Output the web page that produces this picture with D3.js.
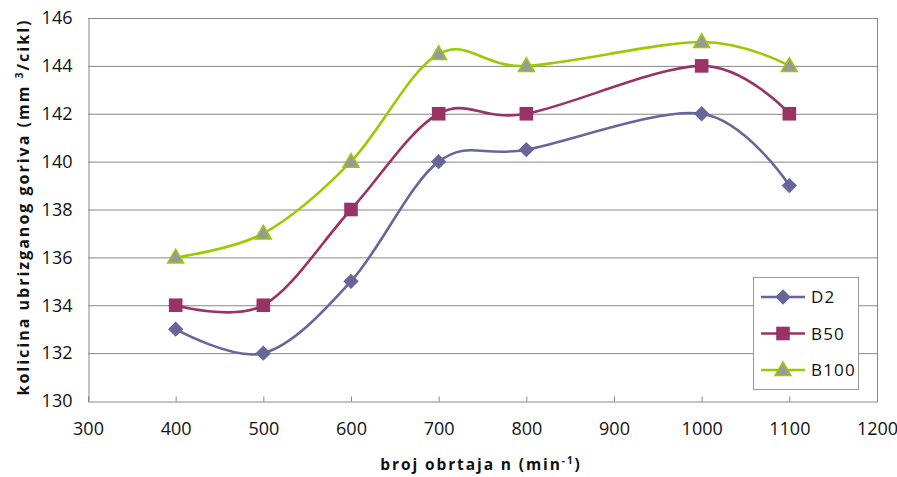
<!DOCTYPE html>
<html><head><meta charset="utf-8">
<script src="https://cdn.jsdelivr.net/npm/d3@7"></script>
<style>body{margin:0;background:#fff}svg{display:block}</style>
</head><body>
<svg id="chart" width="897" height="477"></svg>
<script>
const rpm = [400, 500, 600, 700, 800, 1000, 1100];
const d2 = [133, 132, 135, 140, 140.5, 142, 139];
const b50 = [134, 134, 138, 142, 142, 144, 142];
const b100 = [136, 137, 140, 144.5, 144, 145, 144];
const seriesNames = ["D2", "B50", "B100"];
const xTicks = [300, 400, 500, 600, 700, 800, 900, 1000, 1100, 1200];
const yTicks = [130, 132, 134, 136, 138, 140, 142, 144, 146];

const series = [
  {name: seriesNames[0], values: d2, color: "#666699", fill: "#666699", stroke: "#666699", sym: d3.symbolSquare, size: 118, rot: 45, sw: 0},
  {name: seriesNames[1], values: b50, color: "#993366", fill: "#993366", stroke: "#993366", sym: d3.symbolSquare, size: 185, rot: 0, sw: 0},
  {name: seriesNames[2], values: b100, color: "#99CC00", fill: "#999999", stroke: "#99CC00", sym: d3.symbolTriangle, size: 110, rot: 0, sw: 1.5}
];

const svg = d3.select("#chart");
const L = 88, R = 877, T = 18, B = 401;
const x = d3.scaleLinear().domain([300, 1200]).range([L, R]);
const y = d3.scaleLinear().domain([130, 146]).range([B, T]);
const gridCol = "#878787";
const font = "'Open Sans', sans-serif";

// gridlines
svg.append("g").selectAll("line").data(yTicks.filter(v => v > 130)).join("line")
  .attr("x1", L).attr("x2", R).attr("y1", d => y(d) + 0.5).attr("y2", d => y(d) + 0.5)
  .attr("stroke", gridCol).attr("stroke-width", 1);
// right border
svg.append("line").attr("x1", R + 0.5).attr("x2", R + 0.5).attr("y1", T).attr("y2", B)
  .attr("stroke", gridCol);

// axes
const xAxis = d3.axisBottom(x).tickValues(xTicks).tickSize(-5).tickPadding(21).tickFormat(d3.format("d"));
const gx = svg.append("g").attr("transform", `translate(0,${B + 0.5})`).call(xAxis);
gx.select(".domain").attr("stroke", gridCol);
gx.selectAll(".tick line").attr("stroke", gridCol);
gx.selectAll("text").attr("font-family", font).attr("font-size", 18).attr("fill", "#111");

const yAxis = d3.axisLeft(y).tickValues(yTicks).tickSize(0).tickPadding(16).tickFormat(d3.format("d"));
const gy = svg.append("g").attr("transform", `translate(${L + 0.5},0)`).call(yAxis);
gy.select(".domain").attr("stroke", gridCol);
gy.selectAll("text").attr("font-family", font).attr("font-size", 18).attr("fill", "#111");

// lines
const line = d3.line().x(d => x(d[0])).y(d => y(d[1])).curve(d3.curveCardinal.tension(0));
series.forEach(s => {
  const pts = rpm.map((r, i) => [r, s.values[i]]);
  svg.append("path").datum(pts).attr("d", line).attr("fill", "none")
    .attr("stroke", s.color).attr("stroke-width", 2.6);
});
const markerTf = (s, px, py) => `translate(${px},${py + (s.sym === d3.symbolTriangle ? 1 : 0)}) rotate(${s.rot})`;
series.forEach(s => {
  const pts = rpm.map((r, i) => [r, s.values[i]]);
  svg.append("g").selectAll("path").data(pts).join("path")
    .attr("transform", d => markerTf(s, x(d[0]), y(d[1])))
    .attr("d", d3.symbol().type(s.sym).size(s.size))
    .attr("fill", s.fill).attr("stroke", s.stroke).attr("stroke-width", s.sw);
});

// legend
const lg = svg.append("g");
lg.append("rect").attr("x", 753.5).attr("y", 277.5).attr("width", 105).attr("height", 112)
  .attr("fill", "#fff").attr("stroke", "#999").attr("stroke-width", 1);
series.forEach((s, i) => {
  const ly = 297 + i * 36.5;
  lg.append("line").attr("x1", 761).attr("x2", 805).attr("y1", ly).attr("y2", ly)
    .attr("stroke", s.color).attr("stroke-width", 2.6);
  lg.append("path").attr("transform", markerTf(s, 783, ly))
    .attr("d", d3.symbol().type(s.sym).size(s.size))
    .attr("fill", s.fill).attr("stroke", s.stroke).attr("stroke-width", s.sw);
  lg.append("text").attr("x", 811).attr("y", ly + 6).text(s.name)
    .attr("font-family", font).attr("font-size", 17).attr("letter-spacing", 1.2).attr("fill", "#111");
});

// axis titles
const xt = svg.append("text").attr("x", 481).attr("y", 470).attr("text-anchor", "middle")
  .attr("font-family", font).attr("font-size", 15.5).attr("font-weight", "bold")
  .attr("letter-spacing", 1.9).attr("fill", "#111");
xt.append("tspan").text("broj obrtaja n (min");
xt.append("tspan").attr("dy", -6).attr("font-size", 10).text("-1");
xt.append("tspan").attr("dy", 6).text(")");

const yt = svg.append("text").attr("transform", "translate(29,207) rotate(-90)").attr("text-anchor", "middle")
  .attr("font-family", font).attr("font-size", 16).attr("font-weight", "bold")
  .attr("letter-spacing", 2).attr("fill", "#111");
yt.append("tspan").text("kolicina ubrizganog goriva (mm ");
yt.append("tspan").attr("dy", -6).attr("font-size", 10.5).text("3");
yt.append("tspan").attr("dy", 6).text("/cikl)");
</script>
</body></html>
